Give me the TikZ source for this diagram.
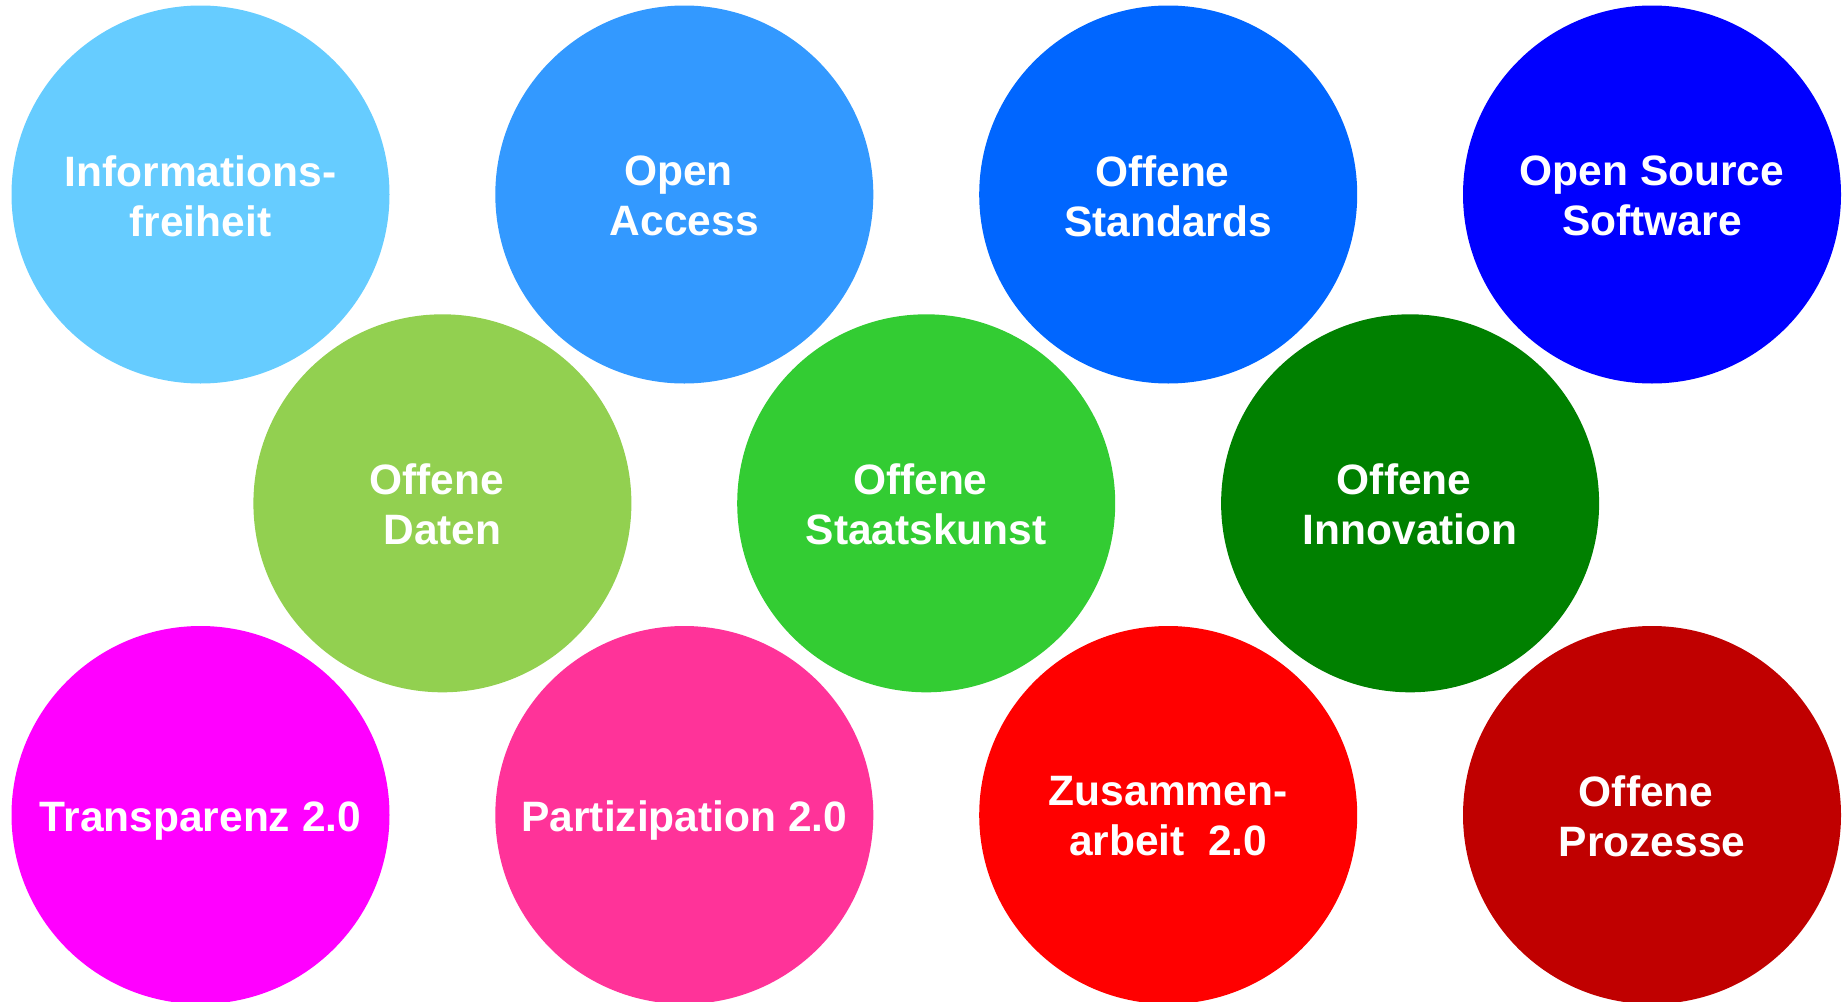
\documentclass[tikz,border=0pt]{standalone}
\usepackage{fontspec}
\setmainfont{Liberation Sans}
\definecolor{cInfo}{HTML}{66CCFF}
\definecolor{cAccess}{HTML}{3399FF}
\definecolor{cStand}{HTML}{0066FF}
\definecolor{cOSS}{HTML}{0000FF}
\definecolor{cDaten}{HTML}{92D050}
\definecolor{cStaat}{HTML}{33CC33}
\definecolor{cInno}{HTML}{008000}
\definecolor{cTrans}{HTML}{FF00FF}
\definecolor{cPart}{HTML}{FF3399}
\definecolor{cZus}{HTML}{FF0000}
\definecolor{cProz}{HTML}{C00000}
\newcommand{\tsp}{\kern0.278em}
\newcommand{\nodp}[1]{\raisebox{0pt}[\height][0pt]{#1}}
\begin{document}
\begin{tikzpicture}[x=1pt,y=-1pt,
  bubble/.style={circle,minimum size=378pt,inner sep=0pt},
  lbl/.style={inner sep=0pt,text=white,align=center,yshift=-1.5pt,
    font=\bfseries\fontsize{42.5}{50}\selectfont}]
\useasboundingbox (0,0) rectangle (1843,1001);
% top row
\node[bubble,fill=cInfo]   (info)  at (200.5,194.5) {};
\node[bubble,fill=cAccess] (acc)   at (684.3,194.5) {};
\node[bubble,fill=cStand]  (std)   at (1168.2,194.5) {};
\node[bubble,fill=cOSS]    (oss)   at (1652,194.5) {};
% middle row
\node[bubble,fill=cDaten]  (daten) at (442.4,503.3) {};
\node[bubble,fill=cStaat]  (staat) at (926.2,503.3) {};
\node[bubble,fill=cInno]   (inno)  at (1410.1,503.3) {};
% bottom row
\node[bubble,fill=cTrans]  (trans) at (200.5,815) {};
\node[bubble,fill=cPart]   (part)  at (684.3,815) {};
\node[bubble,fill=cZus]    (zus)   at (1168.2,815) {};
\node[bubble,fill=cProz]   (proz)  at (1652,815) {};
% labels
\node[lbl] (info-t)  at (info.center)  {Informations-\\freiheit};
\node[lbl] (acc-t)   at (acc.center)   {Open\tsp\\Access};
\node[lbl] (std-t)   at (std.center)   {Offene\tsp\\Standards};
\node[lbl] (oss-t)   at (oss.center)   {Open Source\\Software};
\node[lbl] (daten-t) at (daten.center) {Offene\tsp\\Daten};
\node[lbl] (staat-t) at (staat.center) {Offene\tsp\\Staatskunst};
\node[lbl] (inno-t)  at (inno.center)  {Offene\tsp\\Innovation};
\node[lbl] (trans-t) at (trans.center) {\nodp{Transparenz 2.0}};
\node[lbl] (part-t)  at (part.center)  {\nodp{Partizipation 2.0}};
\node[lbl] (zus-t)   at (zus.center)   {Zusammen-\\arbeit\ \ 2.0};
\node[lbl] (proz-t)  at (proz.center)  {Offene\tsp\\Prozesse};
\end{tikzpicture}
\end{document}
